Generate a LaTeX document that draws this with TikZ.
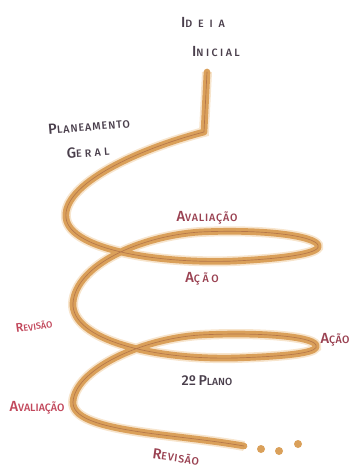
\documentclass[tikz,border=0pt]{standalone}
\usepackage{fontspec}
\setmainfont{Fira Sans}[UprightFont=* Medium]

\definecolor{tubecore}{HTML}{DAA05A}
\definecolor{tubeglow}{HTML}{EFCB9C}
\definecolor{tubeline}{HTML}{8B4536}
\definecolor{inkgray}{HTML}{4A3F4C}
\definecolor{inkmaroon}{HTML}{9A4252}
\definecolor{inkred}{HTML}{C2485C}

% hand-lettered caps: big first letter, smaller caps after it
% [letter spacing][size factor]{first}{rest}
\NewDocumentCommand{\sccap}{O{0} O{1} m m}{%
  {\fontsize{\fpeval{11*#2}}{12}\selectfont\addfontfeatures{LetterSpace=#1}#3}%
  {\fontsize{\fpeval{8*#2}}{9}\selectfont\addfontfeatures{LetterSpace=#1}\MakeUppercase{#4}}}

\begin{document}
\begin{tikzpicture}[x=0.75pt,y=-0.75pt,
    spiral/.style={line width=5pt,draw=tubecore,line cap=round,line join=round,
      preaction={draw=tubeglow,line width=7.5pt,opacity=.5},
      postaction={draw=tubeline,line width=.5pt,opacity=.45}},
    dotmark/.style={circle,fill=tubecore,inner sep=0pt,minimum size=6pt},
    lbl/.style={inner sep=1pt}]
  \useasboundingbox (0,0) rectangle (350,467);

  % the spiral, from the first idea down to the open end
  \draw[spiral] (207,72) -- (204,132)
    .. controls (135,150) and (62,185) .. (66,218)
    .. controls (70,250) and (160,264) .. (235,261)
    .. controls (295,258) and (322,252) .. (318,245)
    .. controls (314,236) and (265,229) .. (200,232)
    .. controls (140,236) and (76,265) .. (73,303)
    .. controls (71,340) and (155,360) .. (235,358)
    .. controls (295,356) and (320,352) .. (316,345)
    .. controls (312,336) and (255,332) .. (200,335)
    .. controls (140,339) and (75,370) .. (73,402)
    .. controls (72,432) and (170,433) .. (244,446);
  \node[dotmark] (dota) at (261,449) {};
  \node[dotmark] (dotb) at (279,451) {};
  \node[dotmark] (dotc) at (298,444) {};

  % labels
  \node[lbl,text=inkgray] (ideia) at (203,22) {\sccap[55]{I}{deia}};
  \node[lbl,text=inkgray] (inicial) at (216,52) {\sccap[23]{I}{nicial}};
  \node[lbl,text=inkgray,rotate=5] (planeamento) at (89,126) {\sccap[9]{P}{laneamento}};
  \node[lbl,text=inkgray,rotate=4] (geral) at (88,152) {\sccap[30]{G}{eral}};
  \node[lbl,text=inkmaroon] (avaltop) at (207,218) {\sccap[8]{A}{valiação}};
  \node[lbl,text=inkmaroon] (acaomid) at (202,279) {\sccap[25]{A}{ção}};
  \node[lbl,text=inkred,rotate=8] (revleft) at (34,326) {\sccap[0][.85]{R}{evisão}};
  \node[lbl,text=inkmaroon] (acaoright) at (335,340) {\sccap[3]{A}{ção}};
  \node[lbl,text=inkgray] (plano) at (207,381) {\sccap[0][.97]{2º}{ }\sccap[0][.97]{P}{lano}};
  \node[lbl,text=inkred] (avalbot) at (37,408) {\sccap{A}{valiação}};
  \node[lbl,text=inkmaroon,rotate=-8] (revbot) at (176,457) {\sccap[7]{R}{evisão}};
\end{tikzpicture}
\end{document}
